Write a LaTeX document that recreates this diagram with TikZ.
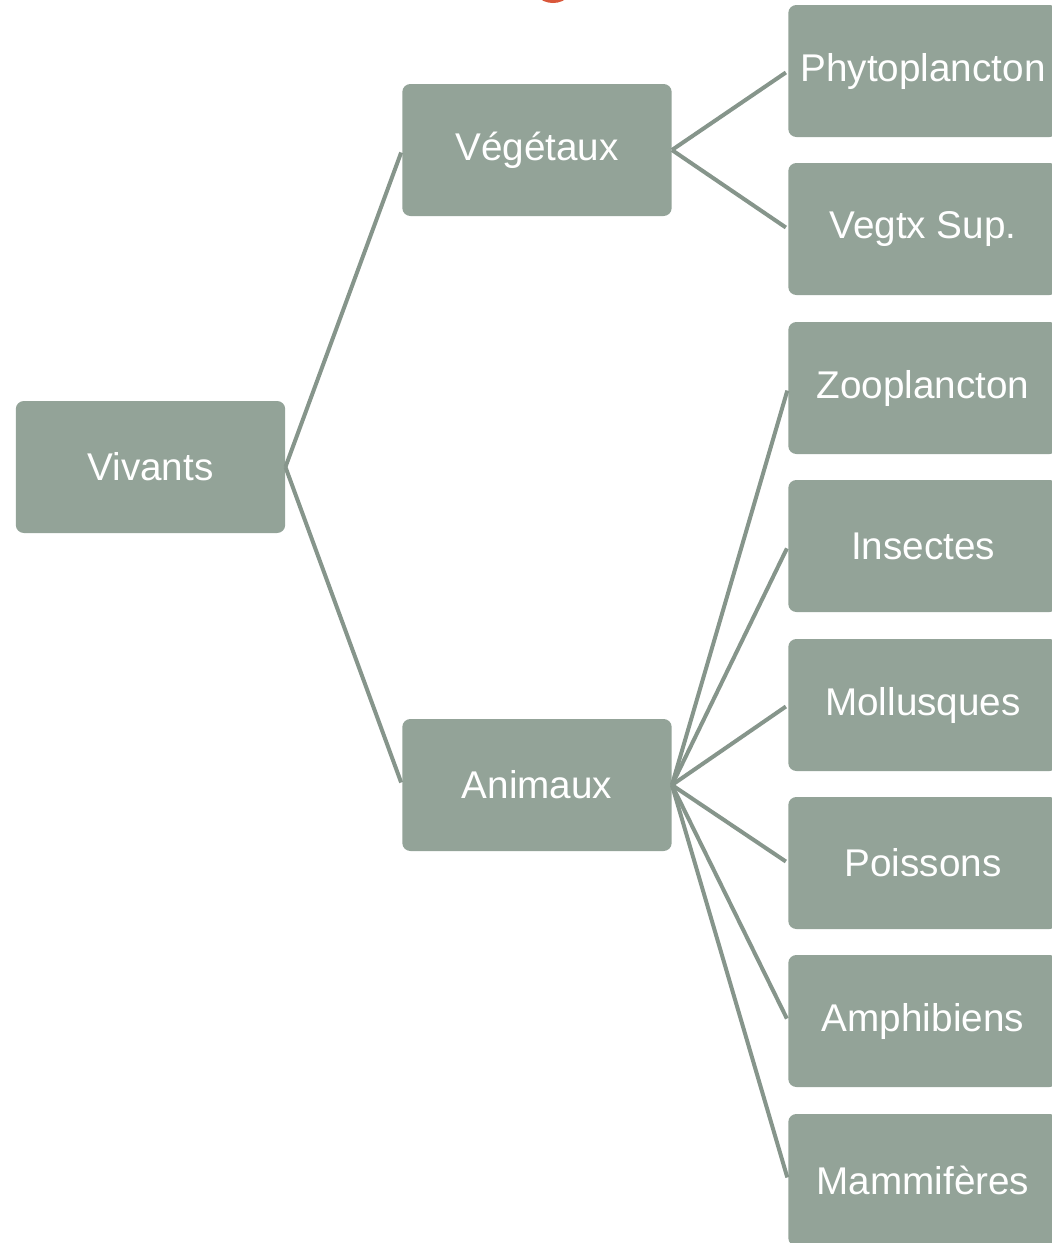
\documentclass[tikz,border=0pt]{standalone}
\usepackage{fontspec}
\setmainfont{Liberation Sans}
\definecolor{boxgrey}{HTML}{93A398}
\definecolor{linegrey}{HTML}{86958B}
\definecolor{dotred}{HTML}{D9573A}

\begin{document}
\begin{tikzpicture}[x=0.75pt,y=-0.75pt,
   box/.style={fill=boxgrey,rounded corners=6pt,minimum width=202pt,
     minimum height=99pt,inner sep=0pt,text=white,
     font=\fontsize{29}{34}\selectfont},
   link/.style={draw=linegrey,line width=3pt,shorten >=2pt}]
   \useasboundingbox (0,0) rectangle (1052,1243);
   \clip (0,0) rectangle (1052,1243);
   \fill[dotred] (553,-20) circle(23);
   \node[box] (viv) at (150.5,467) {Vivants};
   \node[box] (veg) at (537,150) {Végétaux};
   \node[box] (ani) at (537,785) {Animaux};
   \node[box] (phy) at (923,71)   {Phytoplancton};
   \node[box] (sup) at (923,229)  {Vegtx Sup.};
   \node[box] (zoo) at (923,388)  {Zooplancton};
   \node[box] (ins) at (923,546)  {Insectes};
   \node[box] (mol) at (923,705)  {Mollusques};
   \node[box] (poi) at (923,863)  {Poissons};
   \node[box] (amp) at (923,1021) {Amphibiens};
   \node[box] (mam) at (923,1180) {Mammifères};
   \draw[link] (viv.east) -- (veg.west);
   \draw[link] (viv.east) -- (ani.west);
   \draw[link] (veg.east) -- (phy.west);
   \draw[link] (veg.east) -- (sup.west);
   \draw[link] (ani.east) -- (zoo.west);
   \draw[link] (ani.east) -- (ins.west);
   \draw[link] (ani.east) -- (mol.west);
   \draw[link] (ani.east) -- (poi.west);
   \draw[link] (ani.east) -- (amp.west);
   \draw[link] (ani.east) -- (mam.west);
\end{tikzpicture}
\end{document}
